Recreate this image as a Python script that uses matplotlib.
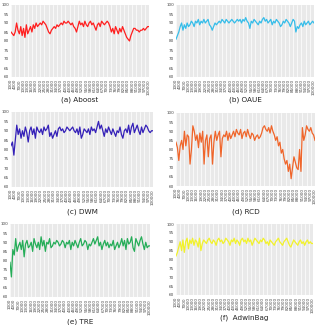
import numpy as np
import matplotlib.pyplot as plt

# instances seen (x axis)
steps = list(range(1000, 100001, 1000))

aboost = [85, 84, 83, 85, 90, 86, 84, 88, 83, 87, 82, 89, 84, 86, 88, 85, 89, 87, 90, 88,
          89, 90, 89, 91, 90, 89, 87, 85, 84, 86, 87, 88, 87, 89, 88, 89, 90, 89, 91, 90,
          90, 91, 90, 89, 90, 88, 87, 85, 88, 91, 89, 90, 88, 91, 89, 88, 90, 91, 89, 90,
          88, 86, 89, 90, 88, 91, 90, 89, 90, 91, 90, 88, 85, 87, 84, 88, 86, 84, 87, 85,
          88, 86, 84, 82, 81, 80, 83, 85, 87, 87, 86, 86, 85, 86, 86, 87, 86, 87, 88, 88]
oaue = [81, 83, 85, 88, 90, 86, 89, 87, 90, 88, 89, 91, 90, 88, 91, 90, 92, 89, 91, 90,
        92, 90, 91, 92, 89, 88, 86, 88, 90, 89, 90, 91, 90, 92, 91, 90, 92, 91, 90, 91,
        92, 91, 90, 91, 92, 91, 92, 90, 92, 91, 93, 91, 90, 87, 91, 90, 92, 91, 90, 89,
        91, 90, 92, 93, 91, 92, 90, 91, 92, 89, 91, 90, 92, 91, 90, 88, 89, 91, 90, 92,
        91, 90, 88, 90, 92, 91, 85, 88, 87, 89, 90, 88, 91, 89, 90, 91, 89, 90, 91, 90]
dwm = [82, 84, 77, 85, 93, 88, 91, 86, 90, 87, 92, 89, 84, 90, 92, 88, 91, 86, 92, 90,
       89, 91, 88, 92, 90, 91, 93, 87, 89, 86, 88, 90, 87, 91, 92, 90, 91, 89, 90, 92,
       91, 90, 91, 92, 90, 89, 91, 88, 92, 86, 88, 91, 90, 89, 91, 88, 92, 90, 91, 89,
       92, 95, 91, 93, 90, 87, 91, 89, 92, 90, 88, 91, 89, 87, 90, 89, 92, 88, 86, 90,
       91, 89, 93, 88, 92, 94, 89, 91, 93, 90, 88, 92, 89, 91, 93, 92, 90, 89, 90, 90]
rcd = [84, 81, 74, 82, 85, 80, 90, 82, 88, 87, 72, 80, 93, 90, 85, 88, 81, 89, 84, 90,
       72, 85, 88, 76, 86, 88, 72, 84, 90, 85, 88, 90, 76, 86, 88, 87, 90, 85, 89, 86,
       88, 90, 87, 91, 89, 88, 91, 86, 89, 90, 87, 91, 88, 86, 89, 88, 85, 87, 88, 86,
       87, 89, 92, 93, 91, 90, 92, 89, 93, 90, 88, 85, 87, 82, 84, 78, 80, 75, 72, 74,
       68, 72, 64, 70, 76, 73, 70, 69, 80, 68, 92, 85, 88, 93, 91, 90, 92, 89, 88, 85]
tre = [79, 71, 86, 83, 92, 85, 88, 90, 86, 91, 82, 89, 91, 87, 88, 90, 85, 92, 89, 87,
       90, 86, 93, 88, 91, 85, 90, 89, 92, 87, 88, 90, 89, 91, 90, 88, 89, 91, 90, 87,
       90, 89, 91, 86, 90, 88, 91, 89, 87, 90, 92, 88, 89, 91, 90, 86, 89, 88, 90, 92,
       89, 91, 93, 88, 90, 86, 89, 91, 88, 90, 87, 89, 88, 91, 86, 88, 90, 87, 89, 92,
       88, 91, 86, 92, 89, 90, 93, 87, 85, 92, 90, 88, 91, 93, 89, 86, 90, 87, 88, 88]
adwinbag = [82, 84, 87, 90, 85, 91, 84, 90, 92, 86, 91, 89, 92, 88, 91, 90, 87, 92, 85, 89,
            91, 90, 89, 91, 92, 90, 89, 91, 90, 88, 91, 92, 90, 91, 89, 90, 92, 91, 90, 88,
            91, 90, 92, 89, 91, 90, 88, 91, 92, 90, 91, 89, 92, 90, 91, 88, 90, 92, 91, 90,
            89, 91, 90, 92, 91, 89, 90, 88, 91, 90, 89, 88, 90, 91, 92, 90, 89, 88, 90, 91,
            92, 90, 88, 87, 89, 91, 90, 89, 88, 90, 91, 89, 90, 88, 90, 91, 89, 90, 89, 89]

series = [aboost, oaue, dwm, rcd, tre, adwinbag]
captions = ["(a) Aboost", "(b) OAUE", "(c) DWM", "(d) RCD", "(e) TRE", "(f)  AdwinBag"]
colors = ["#ff1f1f", "#35bde9", "#3420b8", "#f0652a", "#25ad58", "#f2f22a"]

W, H = 316, 325
fig = plt.figure(figsize=(W / 100, H / 100), dpi=100)

# panel boxes in pixels: left, right, top, bottom, caption y
boxes = [(11, 149, 5, 77, 100), (176, 314, 5, 77, 100),
         (11, 153, 112, 187, 212), (176, 315, 113, 186, 212),
         (10, 150, 224, 297, 322), (176, 313, 224, 295, 318)]

xticks = steps[::3]
for vals, cap, col, (l, r, t, b, cy) in zip(series, captions, colors, boxes):
    ax = fig.add_axes([l / W, 1 - b / H, (r - l) / W, (b - t) / H])
    ax.set_facecolor("#e9e9e9")
    ax.plot(steps, vals, color=col, lw=0.9)
    ax.set_xlim(steps[0], steps[-1])
    ax.set_ylim(60, 100)
    ax.set_yticks(np.arange(60, 101, 5))
    ax.set_xticks(xticks)
    ax.set_xticklabels([str(s) for s in xticks], rotation=90)
    ax.tick_params(labelsize=3, length=0, pad=1.5, colors="#444444")
    ax.grid(axis="x", color="white", lw=0.5)
    ax.set_axisbelow(True)
    for s in ax.spines.values():
        s.set_visible(False)
    fig.text((l + r) / 2 / W, 1 - cy / H, cap, ha="center", va="center",
             fontsize=5.2, color="#222222")

fig.savefig("out.png", dpi=100)
